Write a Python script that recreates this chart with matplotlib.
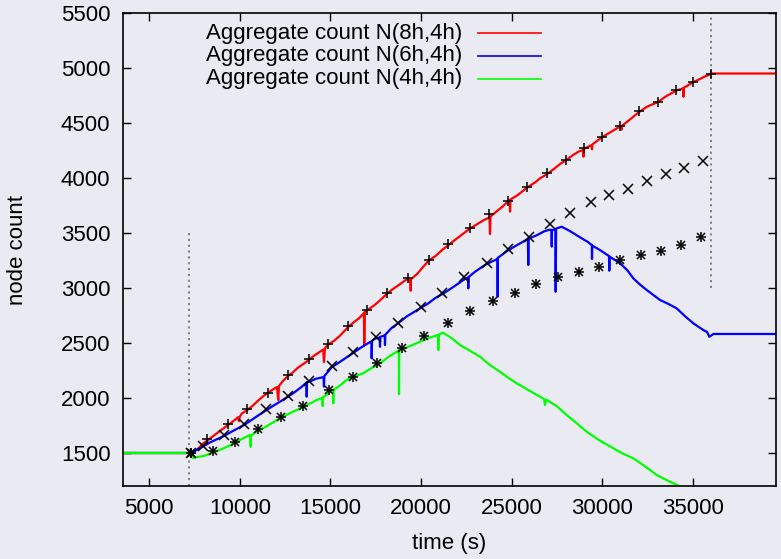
import matplotlib
matplotlib.use("Agg")
import matplotlib.pyplot as plt
from matplotlib.lines import Line2D

plt.rcParams['font.family'] = ['Liberation Sans', 'DejaVu Sans']

# ---------------- data ----------------
x_range = [3550, 39600]
y_range = [1200, 5500]
x_ticks = [5000, 10000, 15000, 20000, 25000, 30000, 35000]
y_ticks = [1500, 2000, 2500, 3000, 3500, 4000, 4500, 5000, 5500]

labels = ["Aggregate count N(8h,4h)", "Aggregate count N(6h,4h)", "Aggregate count N(4h,4h)"]

red_t = [3550, 7200, 7400, 7700, 8000, 8200, 8500, 8800, 9000, 9330, 9500, 9700, 9900, 9950, 10000,
         10100, 10400, 10700, 11000, 11300, 11540, 11800, 12050, 12122, 12160, 12400, 12690, 12900,
         13200, 13500, 13830, 14100, 14400, 14600, 14645, 14700, 14850, 15200, 15500, 16000, 16300,
         16600, 16850, 16870, 16900, 17050, 17400, 17700, 18130, 18400, 18800, 19260, 19420, 19432,
         19450, 19800, 20100, 20430, 20800, 21200, 21520, 21900, 22300, 22700, 23100, 23500, 23780,
         23810, 23840, 24200, 24500, 24820, 24900, 24915, 24940, 25300, 25880, 26300, 26600, 26960,
         27400, 27700, 28000, 28400, 28700, 28950, 28970, 29000, 29425, 29440, 29460, 29990, 30500,
         31000, 31083, 31100, 31600, 32040, 32500, 33080, 33500, 34100, 34480, 34490, 34510, 35020,
         35400, 35700, 35950, 36011, 39600]
red_n = [1500, 1500, 1505, 1540, 1590, 1612, 1650, 1688, 1712, 1752, 1772, 1798, 1825, 1790, 1830,
         1858, 1890, 1928, 1975, 2018, 2045, 2075, 2100, 1982, 2110, 2158, 2205, 2228,
         2275, 2308, 2350, 2385, 2418, 2440, 2327, 2452, 2482, 2520, 2562, 2648, 2690,
         2728, 2772, 2482, 2790, 2800, 2840, 2882, 2948, 2985, 3030, 3085, 3060, 2975,
         3080, 3130, 3188, 3250, 3290, 3350, 3390, 3440, 3490, 3540, 3580, 3620, 3640,
         3491, 3650, 3700, 3740, 3790, 3800, 3694, 3805, 3840, 3915, 3960, 4000, 4035,
         4090, 4130, 4160, 4210, 4240, 4254, 4194, 4265, 4300, 4262, 4305, 4370, 4420,
         4470, 4440, 4475, 4540, 4600, 4650, 4690, 4740, 4795, 4815, 4739, 4820, 4870,
         4900, 4925, 4940, 4950, 4950]

blue_t = [3550, 7200, 7302, 7500, 7976, 8400, 8800, 9124, 9500, 9900, 10245, 10600, 11000, 11426,
          11800, 12200, 12641, 13000, 13400, 13680, 13690, 13710, 13872, 14200, 14620, 14645, 14670,
          15070, 15500, 15900, 16263, 16700, 17100, 17270, 17279, 17300, 17461, 17720, 17737, 17760,
          18000, 18013, 18030, 18400, 18747, 19200, 19600, 19945, 20400, 20800, 21232, 21700, 22100,
          22336, 22600, 22612, 22630, 23000, 23534, 23900, 24180, 24220, 24235, 24250, 24787, 25300,
          25900, 25925, 25950, 26400, 26800, 27100, 27210, 27220, 27230, 27420, 27437, 27460, 27768,
          28200, 28779, 29200, 29430, 29441, 29460, 29884, 30380, 30397, 30420, 30987, 31400, 31722,
          32100, 32461, 32800, 33196, 33600, 34118, 34600, 35034, 35586, 35800, 35917, 36000, 36138,
          39600]
blue_n = [1500, 1500, 1500, 1518, 1560, 1600, 1630, 1655, 1690, 1725, 1755, 1795, 1840, 1885,
          1925, 1965, 2010, 2050, 2100, 2140, 2012, 2145, 2150, 2175, 2190, 2103, 2200,
          2280, 2325, 2370, 2410, 2460, 2500, 2515, 2361, 2520, 2540, 2550, 2466, 2555,
          2570, 2482, 2575, 2640, 2680, 2740, 2780, 2815, 2860, 2910, 2950, 3000, 3045,
          3073, 3095, 2997, 3100, 3150, 3209, 3240, 3260, 3270, 2921, 3275, 3340, 3390,
          3445, 3209, 3450, 3480, 3515, 3530, 3527, 3376, 3527, 3530, 2966, 3540, 3557,
          3520, 3461, 3420, 3390, 3264, 3385, 3345, 3290, 3157, 3285, 3225, 3160, 3088,
          3030, 2982, 2940, 2891, 2860, 2815, 2740, 2679, 2618, 2600, 2557, 2565, 2582,
          2582]

green_t = [3550, 7200, 7400, 7700, 8000, 8533, 9000, 9400, 9731, 10100, 10500, 10590, 10598, 10610,
           11000, 11500, 12000, 12271, 12800, 13200, 13502, 14000, 14243, 14560, 14574, 14590, 14938,
           15150, 15159, 15170, 15500, 15898, 16230, 16815, 17200, 17737, 18300, 18780, 18786, 18800,
           18935, 19500, 19946, 20500, 20950, 20956, 20970, 21199, 21600, 22154, 22700, 23258, 23800,
           24362, 24800, 25284, 25900, 26570, 26800, 26846, 26900, 27012, 27500, 28045, 28600, 29149,
           29800, 30617, 31200, 31722, 32400, 33013, 33600, 34261, 35000, 36000, 39600]
green_n = [1500, 1500, 1455, 1465, 1472, 1505, 1535, 1565, 1595, 1625, 1660, 1664, 1557, 1660,
           1700, 1745, 1795, 1820, 1865, 1895, 1920, 1960, 1982, 2000, 1927, 2005, 2050,
           2070, 1952, 2075, 2110, 2164, 2190, 2225, 2265, 2315, 2385, 2430, 2036, 2436,
           2440, 2480, 2512, 2550, 2573, 2436, 2575, 2594, 2555, 2482, 2430, 2375, 2300,
           2239, 2185, 2134, 2075, 2012, 1990, 1936, 1985, 1975, 1925, 1845, 1770, 1694,
           1620, 1543, 1490, 1452, 1375, 1300, 1250, 1200, 1120, 1010, 1010]

plus_t = [7302, 8202, 9328, 10411, 11537, 12685, 13834, 14849, 15998, 17047, 18134, 19266, 20426,
          21519, 22706, 23755, 24820, 25880, 26957, 28006, 29000, 29994, 31004, 32036, 33085, 34096,
          35018, 36011]
plus_n = [1500, 1625, 1764, 1897, 2048, 2212, 2356, 2491, 2655, 2800, 2957, 3091, 3255,
          3397, 3543, 3673, 3795, 3918, 4041, 4164, 4273, 4376, 4473, 4612, 4691, 4797,
          4873, 4945]

cross_t = [7302, 7976, 9124, 10245, 11426, 12641, 13834, 15087, 16263, 17516, 18747, 19984, 21188,
           22391, 23628, 24787, 25963, 27106, 28243, 29386, 30397, 31413, 32478, 33511, 34521, 35553]
cross_n = [1500, 1564, 1661, 1764, 1897, 2018, 2152, 2294, 2421, 2557, 2679, 2823, 2952,
           3097, 3225, 3355, 3466, 3582, 3679, 3779, 3845, 3897, 3970, 4034, 4094, 4155]

star_t = [7302, 8533, 9731, 10985, 12271, 13502, 14938, 16230, 17588, 18935, 20177, 21519, 22706,
          23976, 25190, 26366, 27581, 28724, 29845, 30987, 32130, 33251, 34355, 35459]
star_n = [1500, 1521, 1603, 1715, 1830, 1930, 2073, 2194, 2315, 2452, 2565, 2682, 2788,
          2882, 2957, 3039, 3097, 3145, 3188, 3252, 3297, 3336, 3391, 3461]

vline_left_t = [7200, 7200]
vline_left_n = [1200, 3500]
vline_right_t = [36000, 36000]
vline_right_n = [3000, 5500]

# ---------------- figure ----------------
bg = '#eaeaf2'
fig = plt.figure(figsize=(7.81, 5.59), dpi=100, facecolor=bg)
W, H = 781, 559
ax = fig.add_axes([123 / W, 1 - 486 / H, (776 - 123) / W, (486 - 13) / H])
ax.set_facecolor(bg)

lw = 1.6
ax.plot(red_t, red_n, color='#ff0000', lw=lw, zorder=2)
ax.plot(blue_t, blue_n, color='#0000ff', lw=lw, zorder=2)
ax.plot(green_t, green_n, color='#00ff00', lw=lw, zorder=2)

ms = 7.5
ax.plot(plus_t, plus_n, ls='none', marker='+', ms=ms, mew=1.1, color='black', zorder=3)
ax.plot(cross_t, cross_n, ls='none', marker='x', ms=ms * 0.95, mew=1.1, color='black', zorder=3)
ax.plot(star_t, star_n, ls='none', marker='+', ms=ms, mew=1.1, color='black', zorder=3)
ax.plot(star_t, star_n, ls='none', marker='x', ms=ms * 0.75, mew=1.1, color='black', zorder=3)

ax.plot(vline_left_t, vline_left_n, color='#707070', lw=1.2, ls=(0, (1.3, 2.2)), zorder=1)
ax.plot(vline_right_t, vline_right_n, color='#707070', lw=1.2, ls=(0, (1.3, 2.2)), zorder=1)

ax.set_xlim(x_range)
ax.set_ylim(y_range)
ax.set_xticks(x_ticks)
ax.set_yticks(y_ticks)
ax.tick_params(direction='in', length=6, width=1.0, top=True, right=True,
               labelsize=16, colors='black')
ax.tick_params(axis='x', pad=9)
ax.tick_params(axis='y', pad=9)
for s in ax.spines.values():
    s.set_linewidth(1.2)
    s.set_color('black')

fig.text(449.5 / W, 1 - 543 / H, "time (s)", ha='center', va='center', fontsize=16)
fig.text(18 / W, 1 - 250 / H, "node count", ha='center', va='center', fontsize=16, rotation=90)

# legend (gnuplot style: text right-aligned, sample on the right)
colors = ['#ff0000', '#0000ff', '#00ff00']
for i, (lab, c) in enumerate(zip(labels, colors)):
    yc = 33.3 + i * 22.7
    fig.text(462 / W, 1 - yc / H, lab, ha='right', va='center', fontsize=16)
    fig.add_artist(Line2D([478 / W, 541 / W], [1 - yc / H, 1 - yc / H], color=c, lw=1.2,
                          transform=fig.transFigure))

fig.savefig('out.png', dpi=100, facecolor=bg)
